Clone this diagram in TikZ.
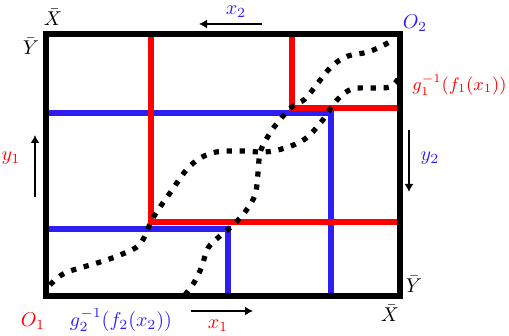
\documentclass[tikz,border=0pt]{standalone}
\usepackage{amsmath}
\usepackage{xcolor}
\usepackage{tikz}
\usetikzlibrary{arrows.meta}
\definecolor{mapblue}{RGB}{45,30,245}

\begin{document}
\begin{tikzpicture}[x=0.5pt, y=-0.5pt,
    frame/.style={draw=black, line width=2.8pt},
    redline/.style={draw=red, line width=3.2pt},
    blueline/.style={draw=mapblue, line width=3.2pt},
    dotcurve/.style={draw=black, line width=2.6pt, dash pattern=on 2.6pt off 3.9pt},
    axisarrow/.style={draw=black, line width=1.4pt, -{Latex[length=4pt,width=4.5pt]}},
    lbl/.style={inner sep=0pt}]
          \useasboundingbox (0,0) rectangle (509,336);

          \coordinate (tl) at (46,34);
          \coordinate (br) at (400,296);

          \coordinate (b1start) at (46,113);
          \coordinate (b1corner) at (331,113);
          \coordinate (b1end) at (331,296);
          \coordinate (b2start) at (46,229);
          \coordinate (b2corner) at (228,229);
          \coordinate (b2end) at (228,296);
          \draw[blueline] (b1start) -- (b1corner) -- (b1end);
          \draw[blueline] (b2start) -- (b2corner) -- (b2end);

          \coordinate (r1top) at (151,34);
          \coordinate (r1corner) at (151,222);
          \coordinate (r1end) at (400,222);
          \coordinate (r2top) at (292,34);
          \coordinate (r2corner) at (292,108);
          \coordinate (r2end) at (400,108);
          \draw[redline] (r1top) -- (r1corner) -- (r1end);
          \draw[redline] (r2top) -- (r2corner) -- (r2end);

          \draw[dotcurve] plot[smooth, tension=0.6] coordinates {(50,285) (65,273) (97,263) (120,255) (140,244) (153,218) (170,193) (190,166) (212,153) (240,151) (265,152) (285,148) (305,139) (322,121) (337,100) (352,89) (372,88) (390,87) (398,79)};
          \draw[dotcurve] plot[smooth, tension=0.6] coordinates {(185,295) (195,281) (202,266) (208,248) (220,236) (232,226) (245,212) (255,195) (258,173) (260,153) (267,138) (278,122) (293,106) (305,99) (318,83) (332,66) (348,56) (368,52) (386,44) (394,39)};

          \draw[frame] (tl) rectangle (br);

          \coordinate (x2from) at (262,24);
          \coordinate (x2to) at (199,24);
          \coordinate (y1from) at (35,197);
          \coordinate (y1to) at (35,135);
          \coordinate (y2from) at (409,130);
          \coordinate (y2to) at (409,192);
          \coordinate (x1from) at (191,311);
          \coordinate (x1to) at (253,311);
          \draw[axisarrow] (x2from) -- (x2to);
          \draw[axisarrow] (y1from) -- (y1to);
          \draw[axisarrow] (y2from) -- (y2to);
          \draw[axisarrow] (x1from) -- (x1to);

          \node[lbl] (xbartop) at (53,17) {$\bar{X}$};
          \node[lbl] (ybartop) at (31,46) {$\bar{Y}$};
          \node[lbl] (ybarbot) at (414,284) {$\bar{Y}$};
          \node[lbl] (xbarbot) at (390,313) {$\bar{X}$};
          \node[lbl, text=mapblue] (xtwo) at (236,12) {$x_2$};
          \node[lbl, text=mapblue] (otwo) at (415,23) {$O_2$};
          \node[lbl, text=mapblue] (ytwo) at (430,158) {$y_2$};
          \node[lbl, text=mapblue] (ginvtwo) at (121,320) {$g_2^{-1}(f_2(x_2))$};
          \node[lbl, text=red, anchor=east, font=\fontsize{9}{10}\selectfont] (ginvone) at (507,85) {$g_1^{-1}(f_1(x_1))$};
          \node[lbl, text=red] (yone) at (11,158) {$y_1$};
          \node[lbl, text=red] (oone) at (33,321) {$O_1$};
          \node[lbl, text=red] (xone) at (218,326) {$x_1$};
        \end{tikzpicture}
\end{document}
